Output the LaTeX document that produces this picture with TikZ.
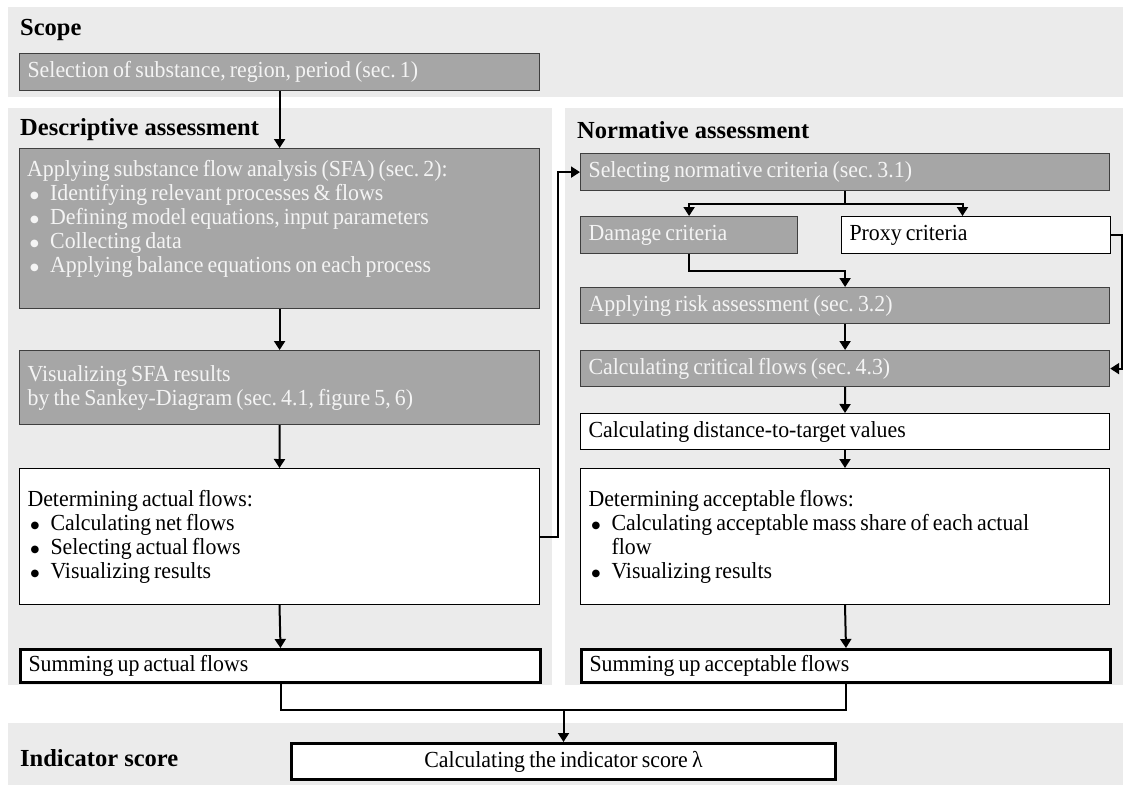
\documentclass[tikz,border=0pt]{standalone}
\usepackage{fontspec}
\setmainfont{Liberation Serif}
\newfontfamily\boxfont{Liberation Serif}[FakeStretch=0.95, WordSpace=0.75]
\newfontfamily\symfont{DejaVu Sans}
\usetikzlibrary{arrows.meta,calc}
\definecolor{panelbg}{HTML}{EBEBEB}
\definecolor{boxgray}{HTML}{A6A6A6}
\definecolor{boxedge}{HTML}{3F3F3F}
\definecolor{boxtext}{HTML}{F4F4F4}
\frenchspacing
% bullet list helpers
\newcommand{\bitem}{\makebox[23pt][l]{\hspace{3pt}\raisebox{1.5pt}{\symfont\fontsize{10}{12}\selectfont ●}}}
\newcommand{\bcont}{\hspace*{23pt}}
% keep the font's own (narrow) interword space inside boxes
\newcommand{\natspace}{\spaceskip=0pt\relax\xspaceskip=0pt\relax}
\tikzset{
  panel/.style={fill=panelbg, draw=none},
  hdr/.style={anchor=west, font=\fontsize{24.5}{27}\selectfont\bfseries, inner sep=0pt},
  txt/.style={inner sep=0pt, align=left, font=\boxfont\fontsize{23}{24}\selectfont,
              execute at begin node=\natspace},
  base/.style={anchor=north west, inner xsep=8pt, inner ysep=0pt, align=left,
               font=\boxfont\fontsize{23}{24}\selectfont,
               execute at begin node=\natspace},
  graybox/.style={base, fill=boxgray, draw=boxedge, line width=1.2pt, text=boxtext},
  whitebox/.style={base, fill=white, draw=black, line width=1pt},
  sumbox/.style={base, fill=white, draw=black, line width=3pt},
  conn/.style={line width=2pt, draw=black},
  arr/.style={conn, -{Triangle[width=11pt,length=9pt]}},
}
\begin{document}
\begin{tikzpicture}[x=1pt, y=-1pt]
\useasboundingbox (0,0) rectangle (1130,790);
\fill[white] (0,0) rectangle (1130,790);

% background panels
\fill[panel] (8,7) rectangle (1123,97);
\fill[panel] (8,108) rectangle (552,685);
\fill[panel] (565,108) rectangle (1123,685);
\fill[panel] (8,723) rectangle (1123,785);

% panel headings
\node[hdr] (hscope) at (20,30) {Scope};
\node[hdr] (hdesc) at (20,130) {Descriptive assessment};
\node[hdr] (hnorm) at (577,130) {Normative assessment};
\node[hdr] (hind) at (20,758) {Indicator score};

% scope
\node[graybox, text width=504pt, minimum height=37pt] (scopebox) at (19,53)
  {Selection of substance, region, period (sec. 1)};

% descriptive column
\node[graybox, minimum width=520pt, minimum height=160pt] (sfa) at (19,148) {};
\node[txt, text=boxtext, anchor=north west] (sfatext) at ($(sfa.north west)+(8,12)$)
  {Applying substance flow analysis (SFA) (sec. 2):\\
   \bitem Identifying relevant processes \& flows\\
   \bitem Defining model equations, input parameters\\
   \bitem Collecting data\\
   \bitem Applying balance equations on each process};
\node[graybox, text width=504pt, minimum height=74pt] (vis) at (19,350)
  {Visualizing SFA results\\
   by the Sankey-Diagram (sec. 4.1, figure 5, 6)};
\node[whitebox, text width=504pt, minimum height=136pt] (deta) at (19,468)
  {Determining actual flows:\\
   \bitem Calculating net flows\\
   \bitem Selecting actual flows\\
   \bitem Visualizing results};
\node[sumbox, text width=504pt, minimum height=33pt] (suma) at (19,648)
  {Summing up actual flows};

% normative column
\node[graybox, text width=513pt, minimum height=37pt] (sel) at (580,153)
  {Selecting normative criteria (sec. 3.1)};
\node[graybox, text width=201pt, minimum height=37pt] (dmg) at (580,216)
  {Damage criteria};
\node[whitebox, text width=253pt, minimum height=37pt] (prx) at (841,216)
  {Proxy criteria};
\node[graybox, text width=513pt, minimum height=36pt] (risk) at (580,287)
  {Applying risk assessment (sec. 3.2)};
\node[graybox, text width=513pt, minimum height=36pt] (crit) at (580,350)
  {Calculating critical flows (sec. 4.3)};
\node[whitebox, text width=513pt, minimum height=36pt] (dist) at (580,413)
  {Calculating distance-to-target values};
\node[whitebox, text width=513pt, minimum height=136pt] (detb) at (580,468)
  {Determining acceptable flows:\\
   \bitem Calculating acceptable mass share of each actual\\
   \bcont flow\\
   \bitem Visualizing results};
\node[sumbox, text width=513pt, minimum height=33pt] (sumb) at (580,648)
  {Summing up acceptable flows};

% indicator
\node[draw=black, line width=3pt, fill=white, anchor=north west, inner sep=0pt,
      minimum width=544pt, minimum height=36pt,
      font=\boxfont\fontsize{23}{24}\selectfont] (ind) at (290,742)
  {Calculating the indicator score λ};

% connectors, descriptive
\draw[arr] (scopebox.south) -- (sfa.north);
\draw[arr] (sfa.south) -- (vis.north);
\draw[arr] (vis.south) -- (deta.north);
\draw[arr] (deta.south) -- (suma.north);
\draw[arr] (deta.east) -- ++(18,0) |- (sel.west);

% connectors, normative
\draw[arr] (sel.south) -- ++(0,13) -| (dmg.north);
\draw[arr] (sel.south) -- ++(0,13) -| ($(prx.north west)!0.45!(prx.north east)$);
\draw[arr] (dmg.south) -- ++(0,17) -| (risk.north);
\draw[arr] (prx.east) -- ++(11,0) |- (crit.east);
\draw[arr] (risk.south) -- (crit.north);
\draw[arr] (crit.south) -- (dist.north);
\draw[arr] (dist.south) -- (detb.north);
\draw[arr] (detb.south) -- (sumb.north);

% merge into the indicator
\coordinate (join) at ($(suma.south)+(0,26)$);
\draw[conn] (suma.south) -- (join) -| (sumb.south);
\draw[arr] (ind.north |- join) -- (ind.north);
\end{tikzpicture}
\end{document}
